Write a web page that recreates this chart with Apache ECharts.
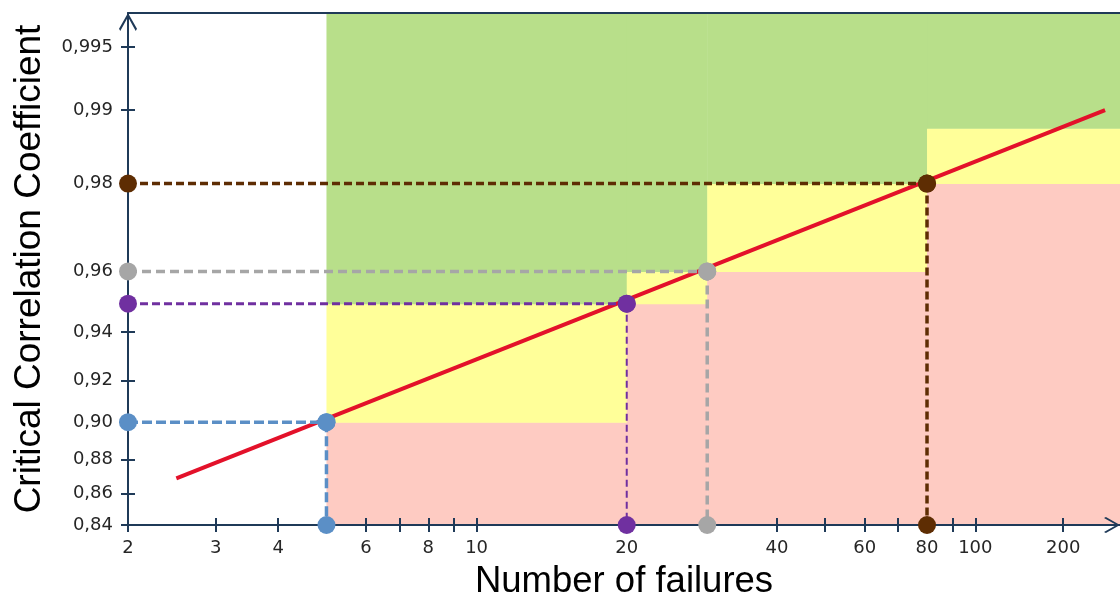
<!DOCTYPE html>
<html>
<head>
<meta charset="utf-8">
<script src="https://cdn.jsdelivr.net/npm/echarts@6/dist/echarts.min.js"></script>
<style>
  html, body { margin: 0; padding: 0; background: #fff; }
  #chart { width: 1120px; height: 595px; }
</style>
</head>
<body>
<div id="chart"></div>
<script>
// axis ranges (number of failures, correlation coefficient)
const xMin = 2, xMax = 195;
const yMin = 0.84, yMax = 0.9967;

// tick marks / labels
const xTicks = [2, 3, 4, 5, 6, 7, 8, 9, 10, 20, 40, 50, 60, 70, 80, 90, 100, 150];
// the reference prints "200" where 150 would sit on a true log scale
const xLabelAt = [2, 3, 4, 6, 8, 10, 20, 40, 60, 80, 100, 150];
const xLabelText = ['2', '3', '4', '6', '8', '10', '20', '40', '60', '80', '100', '200'];
const yTicks = [0.84, 0.86, 0.88, 0.90, 0.92, 0.94, 0.96, 0.98, 0.99, 0.995];
const yLabelText = ['0,84', '0,86', '0,88', '0,90', '0,92', '0,94', '0,96', '0,98', '0,99', '0,995'];

// acceptance zones: red below redTop, yellow up to greenFrom, green above
const zoneFrom = [5, 20, 29, 80];
const zoneTo = [20, 29, 80, 195];
const redTop = [0.90, 0.95, 0.96, 0.98];
const greenFrom = [0.95, 0.96, 0.98, 0.988];

// critical correlation line
const lineN = [2.5, 182];
const lineR = [0.869, 0.990];

// marked examples
const markN = [5, 20, 29, 80];
const markR = [0.90, 0.95, 0.96, 0.98];

const markColors = ['#5b8fc6', '#7030a0', '#a6a6a6', '#5e2d03'];
const hWidth = [3.5, 3, 3.5, 3.5];
const vWidth = [3.5, 2, 3.5, 3.5];
const hDash = [[10, 4], [8, 4], [9, 5], [8, 4]];
const vDash = [[10, 4], [7, 4], [9, 5], [8, 4]];
const axisColor = '#1f3a58';
const labelColor = '#262626';

// weibull-like scales: log10(n) and log10(-ln(1-r))
const tx = n => Math.log10(n);
const ty = r => Math.log10(-Math.log(1 - r));

const arrowPath = 'path://M50,0 L100,88 L93,100 L50,22 L7,100 L0,88 Z';

const chart = echarts.init(document.getElementById('chart'));

function findLabel(list, texts, f, v) {
  const i = list.findIndex(a => Math.abs(f(a) - v) < 1e-6);
  return i >= 0 ? texts[i] : '';
}

const zoneData = zoneFrom.map((n, i) => [tx(n), tx(zoneTo[i]), ty(redTop[i]), ty(greenFrom[i])]);

function renderZone(params, api) {
  const x0 = api.value(0), x1 = api.value(1), r1 = api.value(2), g0 = api.value(3);
  const box = (xa, ya, xb, yb, color) => {
    const p0 = api.coord([xa, ya]);
    const p1 = api.coord([xb, yb]);
    return {
      type: 'rect',
      shape: { x: p0[0], y: p1[1], width: p1[0] - p0[0] + 0.5, height: p0[1] - p1[1] + 0.5 },
      style: { fill: color }
    };
  };
  return {
    type: 'group',
    children: [
      box(x0, ty(yMin), x1, r1, '#fecbc2'),
      box(x0, r1, x1, g0, '#ffff99'),
      box(x0, g0, x1, ty(yMax), '#b8df8a')
    ]
  };
}

// dashed guides: horizontal from the y axis, then down to the x axis
const guideSeries = [];
markN.forEach((n, i) => {
  const base = {
    type: 'line',
    z: 5,
    clip: false,
    symbol: 'circle',
    symbolSize: 18,
    itemStyle: { color: markColors[i] },
    animation: false
  };
  guideSeries.push(Object.assign({}, base, {
    z: 5,
    data: [[tx(n), ty(markR[i])], [tx(n), ty(yMin)]],
    lineStyle: { color: markColors[i], width: vWidth[i], type: vDash[i] }
  }));
  guideSeries.push(Object.assign({}, base, {
    z: 6,
    data: [[tx(xMin), ty(markR[i])], [tx(n), ty(markR[i])]],
    lineStyle: { color: markColors[i], width: hWidth[i], type: hDash[i] }
  }));
});

const tickStyle = { color: axisColor, width: 2 };
const grid = { left: 128, right: 0, top: 13, bottom: 70, containLabel: false, outerBoundsMode: 'none' };

const option = {
  animation: false,
  grid: [grid, Object.assign({}, grid)],
  xAxis: [
    {
      gridIndex: 0,
      type: 'value',
      position: 'bottom',
      min: tx(xMin),
      max: tx(xMax),
      z: 3,
      axisLine: {
        lineStyle: { color: axisColor, width: 2 },
        symbol: ['none', arrowPath],
        symbolSize: [25, 16],
        symbolOffset: [0, -8]
      },
      axisTick: { customValues: xTicks.map(tx), length: 7, lineStyle: tickStyle },
      axisLabel: {
        customValues: xLabelAt.map(tx),
        formatter: v => findLabel(xLabelAt, xLabelText, tx, v),
        margin: 14,
        fontSize: 18,
        fontFamily: 'DejaVu Sans',
        color: labelColor
      },
      splitLine: { show: false },
      name: 'Number of failures',
      nameLocation: 'middle',
      nameGap: 38,
      nameTextStyle: { fontSize: 36.5, fontFamily: 'Liberation Sans', color: '#000' }
    },
    {
      gridIndex: 0,
      type: 'value',
      position: 'top',
      min: tx(xMin),
      max: tx(xMax),
      z: 3,
      axisLine: { lineStyle: { color: axisColor, width: 2 } },
      axisTick: { show: false },
      axisLabel: { show: false },
      splitLine: { show: false }
    },
    {
      gridIndex: 1,
      type: 'value',
      position: 'bottom',
      min: tx(xMin),
      max: tx(xMax),
      z: 3,
      axisLine: { show: false },
      axisTick: { inside: true, customValues: xTicks.map(tx), length: 7, lineStyle: tickStyle },
      axisLabel: { show: false, customValues: xTicks.map(tx) },
      splitLine: { show: false }
    }
  ],
  yAxis: [
    {
      gridIndex: 0,
      type: 'value',
      min: ty(yMin),
      max: ty(yMax),
      z: 3,
      axisLine: {
        show: true,
        lineStyle: { color: axisColor, width: 2 },
        symbol: ['none', arrowPath],
        symbolSize: [21, 18],
        symbolOffset: [0, -9]
      },
      axisTick: { show: true, customValues: yTicks.map(ty), length: 7, lineStyle: tickStyle },
      axisLabel: {
        customValues: yTicks.map(ty),
        formatter: v => findLabel(yTicks, yLabelText, ty, v),
        margin: 15,
        fontSize: 18,
        fontFamily: 'DejaVu Sans',
        color: labelColor
      },
      splitLine: { show: false },
      name: 'Critical Correlation Coefficient',
      nameLocation: 'middle',
      nameRotate: 90,
      nameGap: 80,
      nameTextStyle: { fontSize: 37, fontFamily: 'Liberation Sans', color: '#000' }
    },
    {
      gridIndex: 1,
      type: 'value',
      min: ty(yMin),
      max: ty(yMax),
      z: 3,
      axisLine: { show: false },
      axisTick: { show: true, inside: true, customValues: yTicks.map(ty), length: 7, lineStyle: tickStyle },
      axisLabel: { show: false, customValues: yTicks.map(ty) },
      splitLine: { show: false }
    }
  ],
  series: [
    {
      type: 'custom',
      z: 1,
      renderItem: renderZone,
      data: zoneData,
      encode: { x: [0, 1], y: [2, 3] },
      silent: true
    },
    {
      type: 'line',
      z: 4,
      data: lineN.map((n, i) => [tx(n), ty(lineR[i])]),
      showSymbol: false,
      lineStyle: { color: '#e3112a', width: 4 }
    }
  ].concat(guideSeries)
};

chart.setOption(option);
</script>
</body>
</html>
